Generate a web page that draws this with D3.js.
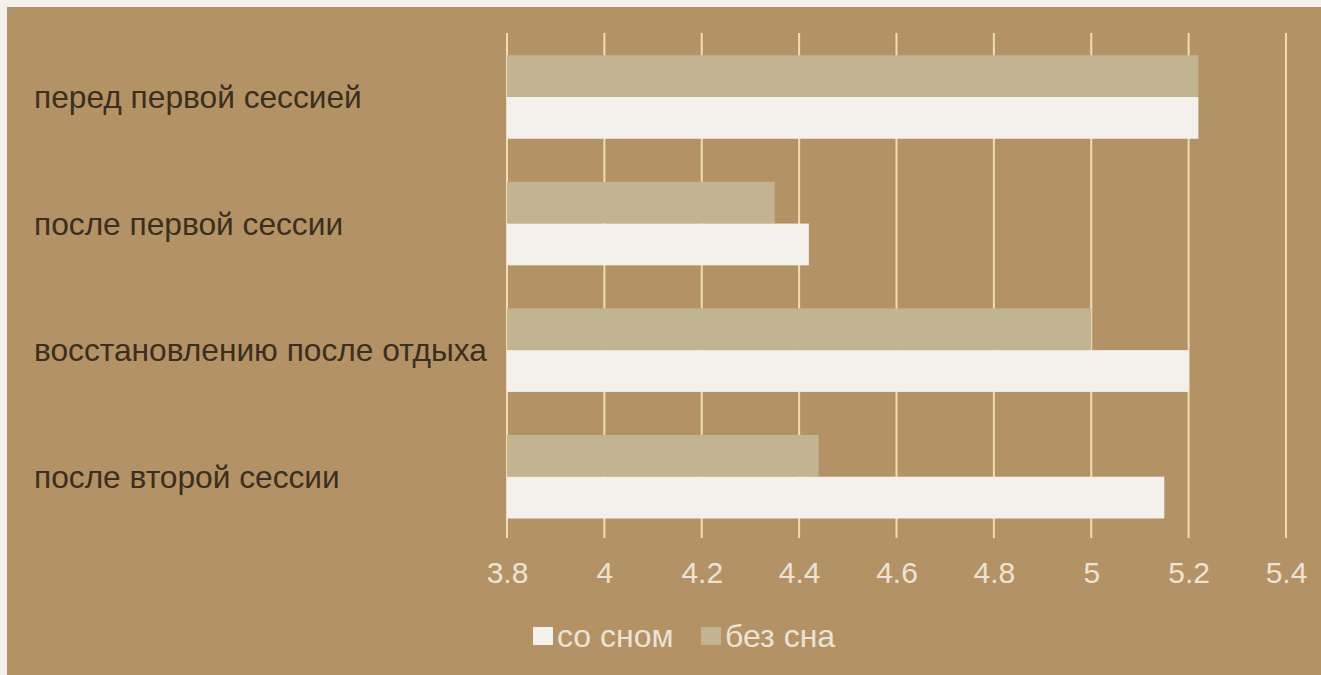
<!DOCTYPE html>
<html><head><meta charset="utf-8">
<script src="https://cdn.jsdelivr.net/npm/d3@7"></script>
<style>html,body{margin:0;padding:0;background:#f4f1ec;}svg{display:block;}</style>
</head><body><svg id="c" width="1321" height="675"></svg>
<script>
const categories = ["перед первой сессией","после первой сессии","восстановлению после отдыха","после второй сессии"];
const seriesNames = ["со сном","без сна"];
const withSleep = [5.22, 4.42, 5.2, 5.15];
const withoutSleep = [5.22, 4.35, 5.0, 4.44];
const tickValues = [3.8, 4, 4.2, 4.4, 4.6, 4.8, 5, 5.2, 5.4];

const FONT = "'Liberation Sans', Arial, sans-serif";
const colors = {bg:"#b39365", white:"#f4f1ec", beige:"#c2b391", grid:"#f2dcb4", text:"#3a2f20", tick:"#ebe3d4"};
const svg = d3.select("#c");
svg.append("rect").attr("x",7).attr("y",7).attr("width",1314).attr("height",668).attr("fill",colors.bg);

const x = d3.scaleLinear().domain([3.8,5.4]).range([507,1286]);
const y = d3.scaleBand().domain(categories).range([33.7,540]).paddingInner(0.34).paddingOuter(0.17);
const sub = d3.scaleBand().domain(["без сна","со сном"]).range([0,y.bandwidth()]);

// gridlines
svg.append("g").selectAll("line").data(tickValues).join("line")
  .attr("x1",d=>x(d)).attr("x2",d=>x(d)).attr("y1",33).attr("y2",538)
  .attr("stroke",colors.grid).attr("stroke-width",2);

const g = svg.append("g");
categories.forEach((c,i)=>{
  g.append("rect").attr("x",x(3.8)).attr("y",y(c)+sub("без сна")).attr("width",x(withoutSleep[i])-x(3.8)).attr("height",sub.bandwidth()).attr("fill",colors.beige);
  g.append("rect").attr("x",x(3.8)).attr("y",y(c)+sub("со сном")).attr("width",x(withSleep[i])-x(3.8)).attr("height",sub.bandwidth()).attr("fill",colors.white);
});

// category labels
svg.append("g").selectAll("text").data(categories).join("text")
  .attr("x",34).attr("y",d=>y(d)+y.bandwidth()/2+11)
  .attr("font-family",FONT).attr("font-size",31.7)
  .attr("fill",colors.text).text(d=>d);

// x axis
const axis = d3.axisBottom(x).tickValues(tickValues).tickSize(0).tickPadding(0).tickFormat(d3.format("~g"));
const ax = svg.append("g").attr("transform","translate(0,583)").call(axis);
ax.select(".domain").remove();
ax.selectAll("text").attr("dy","0").attr("y",0).attr("font-family",FONT).attr("font-size",30).attr("fill",colors.tick);

// legend
const legend = svg.append("g");
const items = [{name:seriesNames[0],color:colors.white,x:533},{name:seriesNames[1],color:colors.beige,x:701}];
items.forEach(it=>{
  legend.append("rect").attr("x",it.x).attr("y",627).attr("width",20).attr("height",18).attr("fill",it.color);
  legend.append("text").attr("x",it.x+24).attr("y",647).attr("font-family",FONT).attr("font-size",32).attr("fill",colors.tick).text(it.name);
});
</script></body></html>
